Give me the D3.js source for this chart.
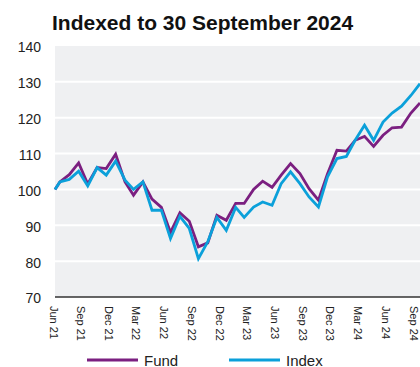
<!DOCTYPE html>
<html>
<head>
<meta charset="utf-8">
<script src="https://cdn.jsdelivr.net/npm/d3@7/dist/d3.min.js"></script>
<style>
  html, body { margin: 0; padding: 0; background: #fff; }
  svg { display: block; font-family: "Liberation Sans", Arial, Helvetica, sans-serif; }
</style>
</head>
<body>
<svg id="chart" width="420" height="367"></svg>
<script>
// Start date, then month-end observations Jun 2021 – Sep 2024
const startDate = "2021-06-14";
const firstMonthEnd = "2021-06-30";
const monthCount = 40;

const fundValues = [
  100, 102.1, 104.1, 107.4, 101.5, 106.1, 105.8, 109.8, 102.1, 98.4,
  102.1, 97.3, 95, 88, 93.5, 91.1, 84, 85.1, 92.8, 91.4,
  96.1, 96.1, 100, 102.3, 100.6, 104, 107.2, 104.4, 100.2, 97,
  104.4, 110.9, 110.7, 113.7, 114.8, 112, 115.1, 117.2, 117.4, 121.3, 124.1
];
const indexValues = [
  100, 102.1, 102.8, 105.1, 101, 106.1, 104, 107.9, 102.6, 100,
  102.1, 94.2, 94.2, 86.3, 92.5, 89.1, 80.7, 85.4, 92.2, 88.6,
  95, 92.2, 95.1, 96.5, 95.6, 101.6, 104.9, 101.6, 97.9, 95.1,
  103.5, 108.6, 109.2, 113.7, 117.9, 113.7, 118.8, 121.3, 123.2, 126.2, 129.5
];
const seriesNames = ["Fund", "Index"];
const seriesColors = ["#7b1f80", "#0ba0da"];
const yTicks = [70, 80, 90, 100, 110, 120, 130, 140];
const xTickLabels = ["Jun 21", "Sep 21", "Dec 21", "Mar 22", "Jun 22", "Sep 22", "Dec 22",
                     "Mar 23", "Jun 23", "Sep 23", "Dec 23", "Mar 24", "Jun 24", "Sep 24"];

const parse = d3.timeParse("%Y-%m-%d");
const parseTick = d3.timeParse("%b %y");
const dates = [parse(startDate)];
const m0 = parse(firstMonthEnd);
for (let i = 0; i < monthCount; i++) {
  // last day of each month
  const d = d3.timeMonth.offset(d3.timeMonth.floor(m0), i + 1);
  dates.push(d3.timeDay.offset(d, -1));
}

const svg = d3.select("#chart");
const plotL = 55, plotR = 420, plotT = 46, plotB = 297;

const x = d3.scaleTime().domain([dates[0], dates[dates.length - 1]]).range([plotL, plotR]);
const y = d3.scaleLinear().domain([70, 140]).range([plotB, plotT]);

// Title
svg.append("text")
  .attr("x", 52).attr("y", 30)
  .attr("font-size", 21).attr("font-weight", "bold").attr("fill", "#111")
  .text("Indexed to 30 September 2024");

// Plot background
svg.append("rect")
  .attr("x", plotL).attr("y", plotT)
  .attr("width", plotR - plotL).attr("height", plotB - plotT)
  .attr("fill", "#eff0f2");

// Gridlines
svg.append("g").selectAll("line")
  .data(yTicks.filter(v => v > 70 && v < 140))
  .join("line")
  .attr("x1", plotL).attr("x2", plotR)
  .attr("y1", d => y(d)).attr("y2", d => y(d))
  .attr("stroke", "#fff").attr("stroke-width", 2);

// Y axis labels
const yAxis = d3.axisLeft(y).tickValues(yTicks).tickSize(0).tickPadding(0);
const gy = svg.append("g").attr("transform", `translate(${41},0)`).call(yAxis);
gy.select(".domain").remove();
gy.selectAll("text").attr("font-size", 14).attr("fill", "#222")
  .attr("font-family", "Liberation Sans, Arial, sans-serif")
  .attr("dy", "0.42em");

// Series lines
const line = d3.line().x((d, i) => x(dates[i])).y(d => y(d));
[fundValues, indexValues].forEach((vals, k) => {
  svg.append("path")
    .datum(vals)
    .attr("d", line)
    .attr("fill", "none")
    .attr("stroke", seriesColors[k])
    .attr("stroke-width", 2.8)
    .attr("stroke-linejoin", "miter");
});

// Bottom axis line
svg.append("line")
  .attr("x1", plotL).attr("x2", plotR)
  .attr("y1", plotB).attr("y2", plotB)
  .attr("stroke", "#333").attr("stroke-width", 1.6);

// Quarterly date labels, rotated
const tickDates = xTickLabels.map(s => parseTick(s));
const xAxis = d3.axisBottom(x).tickValues(tickDates).tickFormat(d3.timeFormat("%b %y")).tickSize(0);
const gx = svg.append("g").attr("transform", `translate(0,${plotB})`).call(xAxis);
gx.select(".domain").remove();
gx.selectAll(".tick text")
  .attr("font-size", 11).attr("fill", "#222")
  .attr("font-family", "Liberation Sans, Arial, sans-serif")
  .attr("text-anchor", "start")
  .attr("dominant-baseline", "central")
  .attr("dy", null)
  .attr("y", 0)
  .attr("transform", "translate(2,9) rotate(90)");

// Legend
const legend = svg.append("g");
const legendX = [87, 229];
seriesNames.forEach((name, k) => {
  legend.append("line")
    .attr("x1", legendX[k]).attr("x2", legendX[k] + 51)
    .attr("y1", 360).attr("y2", 360)
    .attr("stroke", seriesColors[k]).attr("stroke-width", 2.8);
  legend.append("text")
    .attr("x", legendX[k] + 57).attr("y", 365.5)
    .attr("font-size", 15).attr("fill", "#222")
    .text(name);
});
</script>
</body>
</html>
